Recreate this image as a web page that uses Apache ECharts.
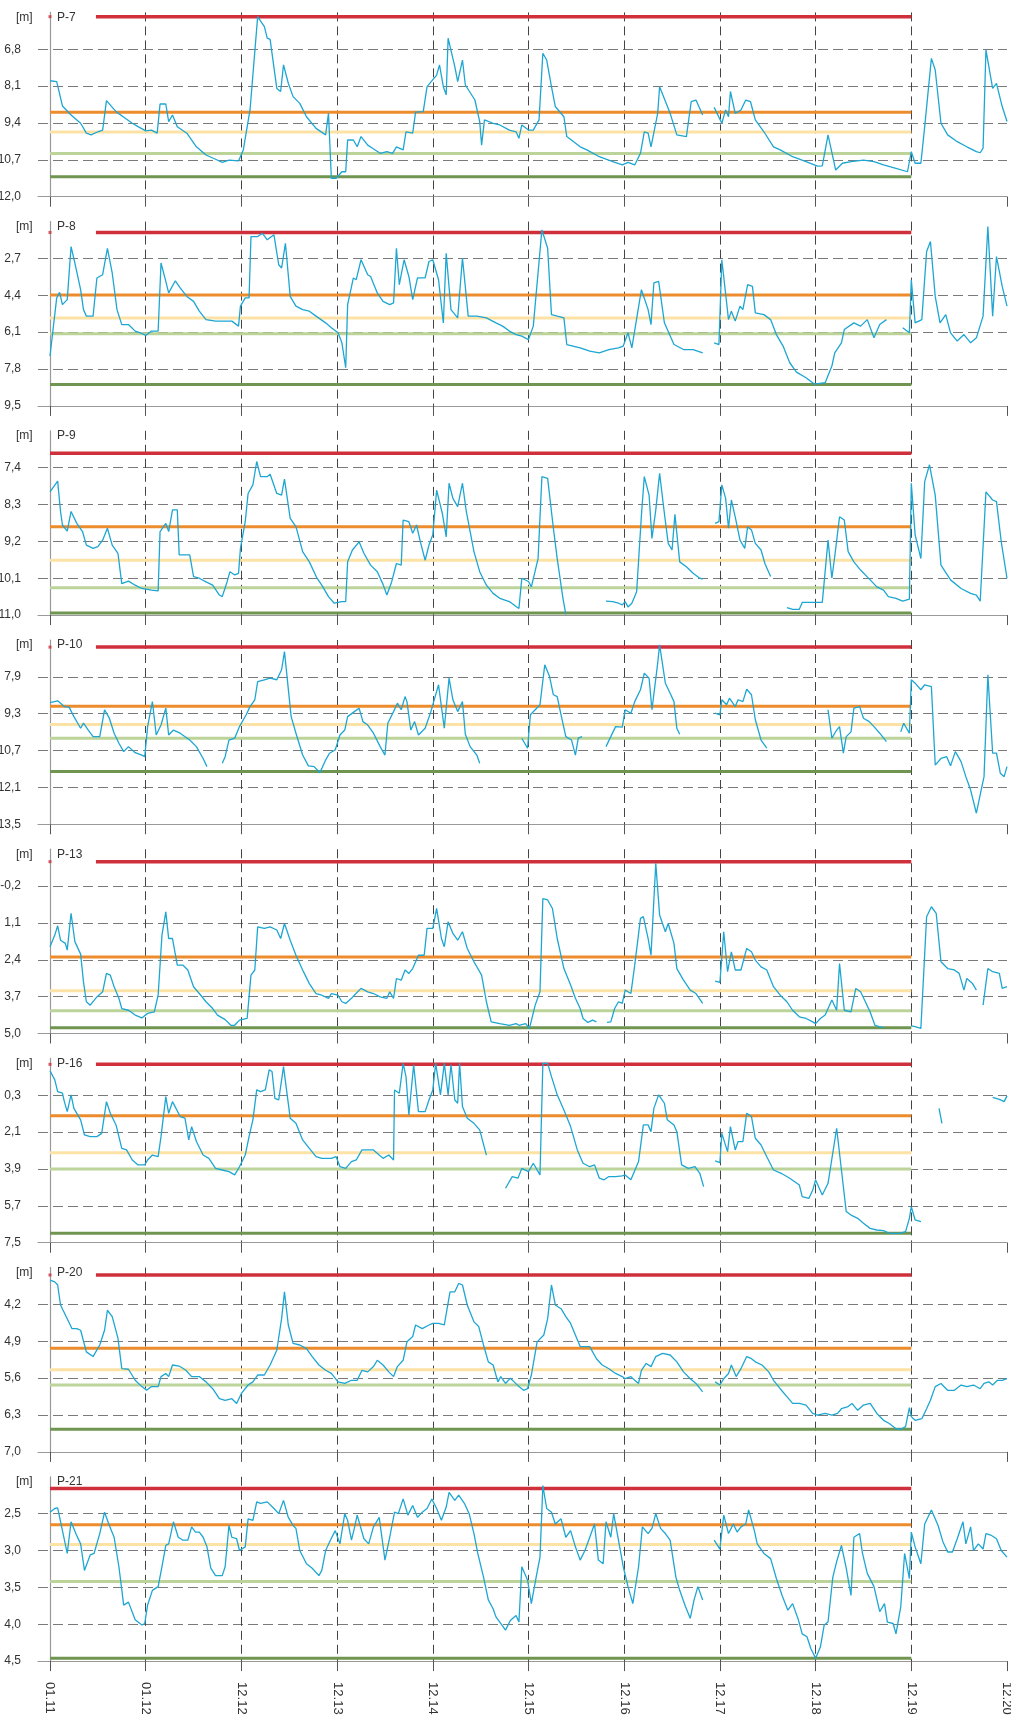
<!DOCTYPE html>
<html><head><meta charset="utf-8">
<script src="https://cdn.jsdelivr.net/npm/echarts@6/dist/echarts.min.js"></script>
<style>html,body{margin:0;padding:0;background:#fff}#c{width:1011px;height:1715px}</style>
</head><body><div id="c"></div>
<script>
const xLabels = ['01.11','01.12','12.12','12.13','12.14','12.15','12.16','12.17','12.18','12.19','12.20'];
const panelNames = ['P-7','P-8','P-9','P-10','P-13','P-16','P-20','P-21'];
const axisMin  = [5.5, 1.0, 6.5, 6.5, -1.5, -1.5, 3.5, 2.0];
const axisMax  = [12.0, 9.5, 11.0, 13.5, 5.0, 7.5, 7.0, 4.5];
const axisStep = [1.3, 1.7, 0.9, 1.4, 1.3, 1.8, 0.7, 0.5];
const redLevel        = [5.65, 1.5, 7.05, 6.77, -1.06, -1.21, 3.64, 2.16];
const redStart        = [0.48, 0.48, 0, 0.48, 0.48, 0.48, 0.48, 0];
const orangeLevel     = [9.02, 4.39, 8.84, 9.02, 2.30, 1.30, 5.03, 2.65];
const yellowLevel     = [9.72, 5.45, 9.66, 9.71, 3.49, 3.11, 5.44, 2.92];
const lightGreenLevel = [10.48, 6.17, 10.33, 10.23, 4.20, 3.90, 5.73, 3.42];
const darkGreenLevel  = [11.30, 8.51, 10.95, 11.49, 4.80, 7.04, 6.57, 4.46];
const thresholdEnd = 9;

const p7 = [[0,7.91],[0.07,7.94],[0.13,8.8],[0.22,9.12],[0.32,9.41],[0.38,9.76],[0.43,9.82],[0.5,9.71],[0.55,9.65],[0.59,8.61],[0.69,9.0],[0.79,9.24],[0.86,9.41],[0.92,9.53],[1.0,9.68],[1.06,9.65],[1.12,9.76],[1.15,8.73],[1.21,8.73],[1.24,9.35],[1.28,9.12],[1.33,9.53],[1.43,9.76],[1.53,10.24],[1.63,10.53],[1.73,10.68],[1.8,10.79],[1.87,10.71],[1.97,10.74],[2.02,10.35],[2.09,8.94],[2.17,5.65],[2.24,6.0],[2.27,6.41],[2.3,6.45],[2.37,8.18],[2.41,8.29],[2.44,7.35],[2.49,8.0],[2.54,8.47],[2.61,8.71],[2.68,9.18],[2.78,9.59],[2.88,9.82],[2.91,9.06],[2.94,11.35],[2.99,11.35],[3.05,11.12],[3.09,11.12],[3.11,10.0],[3.17,10.0],[3.21,10.24],[3.25,9.88],[3.32,10.18],[3.37,10.29],[3.45,10.47],[3.52,10.41],[3.58,10.47],[3.62,10.24],[3.69,10.35],[3.72,9.71],[3.79,9.76],[3.82,9.02],[3.9,9.0],[3.94,8.12],[4.04,7.71],[4.07,7.35],[4.11,8.12],[4.14,8.41],[4.16,6.41],[4.23,7.41],[4.26,7.94],[4.31,7.18],[4.34,8.06],[4.44,8.59],[4.49,9.35],[4.51,10.18],[4.54,9.29],[4.63,9.41],[4.7,9.47],[4.8,9.65],[4.87,9.71],[4.9,9.94],[4.93,9.47],[5.0,9.65],[5.05,9.65],[5.11,9.29],[5.15,6.94],[5.19,7.18],[5.24,8.12],[5.28,8.82],[5.37,9.18],[5.4,9.88],[5.54,10.24],[5.61,10.35],[5.74,10.59],[5.88,10.76],[5.98,10.88],[6.04,10.79],[6.11,10.88],[6.17,10.47],[6.21,9.71],[6.25,9.76],[6.28,10.24],[6.35,9.06],[6.37,8.12],[6.48,9.06],[6.55,9.82],[6.65,9.88],[6.7,8.65],[6.75,8.59],[6.82,9.12],null,[6.94,8.85],[7.02,9.41],[7.06,8.94],[7.09,9.18],[7.11,8.29],[7.16,9.06],[7.22,8.94],[7.27,8.59],[7.32,8.65],[7.37,9.29],[7.46,9.71],[7.56,10.24],[7.63,10.35],[7.76,10.59],[7.9,10.76],[8.02,10.92],[8.07,10.91],[8.13,9.82],[8.21,11.06],[8.28,10.82],[8.37,10.76],[8.5,10.71],[8.61,10.76],[8.71,10.88],[8.84,11.0],[8.96,11.12],[9.0,10.41],[9.04,10.82],[9.1,10.82],[9.14,9.53],[9.21,7.12],[9.25,7.53],[9.31,9.41],[9.38,9.82],[9.48,10.06],[9.58,10.24],[9.68,10.41],[9.72,10.45],[9.75,10.29],[9.78,6.82],[9.85,8.18],[9.89,8.0],[9.95,8.82],[10.0,9.35]];

const p8 = [[0,7.2],[0.07,4.52],[0.1,4.26],[0.13,4.83],[0.18,4.6],[0.22,2.15],[0.26,2.91],[0.32,4.14],[0.35,5.06],[0.38,5.36],[0.45,5.36],[0.49,3.6],[0.55,3.45],[0.6,2.23],[0.65,3.37],[0.7,5.06],[0.75,5.75],[0.82,5.75],[0.89,6.05],[0.96,6.16],[1.0,6.25],[1.06,6.05],[1.13,6.05],[1.16,2.91],[1.21,3.76],[1.24,4.29],[1.31,3.73],[1.36,4.06],[1.43,4.45],[1.5,4.68],[1.56,5.13],[1.63,5.52],[1.73,5.59],[1.9,5.59],[1.97,5.82],[1.99,4.9],[2.04,4.52],[2.08,4.52],[2.1,1.69],[2.17,1.69],[2.22,1.54],[2.27,1.84],[2.34,1.61],[2.39,2.99],[2.42,3.14],[2.46,2.0],[2.51,4.45],[2.57,4.9],[2.64,5.06],[2.71,5.13],[2.78,5.36],[2.88,5.67],[2.94,5.9],[3.01,6.13],[3.05,6.59],[3.09,7.74],[3.11,4.83],[3.17,3.6],[3.2,3.68],[3.25,2.76],[3.32,3.45],[3.35,3.53],[3.42,4.29],[3.48,4.68],[3.55,4.83],[3.59,4.75],[3.62,2.23],[3.65,3.91],[3.7,2.76],[3.75,3.53],[3.79,4.6],[3.84,3.6],[3.92,3.6],[3.96,2.84],[4.0,2.76],[4.06,3.68],[4.11,5.67],[4.14,2.46],[4.19,5.06],[4.26,5.44],[4.31,2.68],[4.37,5.36],[4.46,5.36],[4.56,5.44],[4.66,5.67],[4.73,5.82],[4.8,6.05],[4.87,6.21],[4.93,6.28],[5.0,6.44],[5.05,5.82],[5.14,1.38],[5.2,2.23],[5.24,5.29],[5.3,5.36],[5.37,5.44],[5.4,6.67],[5.54,6.82],[5.64,6.97],[5.74,7.05],[5.84,6.9],[5.94,6.82],[5.99,6.74],[6.04,6.13],[6.08,6.82],[6.18,4.14],[6.25,5.06],[6.28,5.75],[6.31,3.83],[6.36,3.76],[6.42,5.67],[6.52,6.67],[6.62,6.9],[6.72,6.9],[6.82,7.05],null,[6.94,6.59],[6.99,6.67],[7.02,2.76],[7.09,5.52],[7.12,5.13],[7.16,5.59],[7.21,4.9],[7.24,5.06],[7.29,3.91],[7.34,3.99],[7.37,5.21],[7.46,5.29],[7.53,5.52],[7.59,6.21],[7.66,6.74],[7.73,7.51],[7.8,7.94],[7.9,8.2],[7.99,8.5],[8.1,8.43],[8.17,7.66],[8.2,7.05],[8.27,6.59],[8.3,5.98],[8.4,5.67],[8.47,5.82],[8.54,5.52],[8.61,6.36],[8.67,5.75],[8.74,5.52],null,[8.91,5.9],[8.98,6.13],[9.0,3.68],[9.04,5.67],[9.11,5.52],[9.16,2.38],[9.2,1.92],[9.25,4.45],[9.3,5.67],[9.36,5.29],[9.41,6.13],[9.48,6.51],[9.55,6.21],[9.62,6.59],[9.68,6.36],[9.75,5.36],[9.8,1.23],[9.85,5.36],[9.89,2.61],[9.95,3.99],[10.0,4.9]];

const p9 = [[0,7.99],[0.08,7.73],[0.11,8.47],[0.13,8.8],[0.18,8.95],[0.22,8.47],[0.28,8.76],[0.34,8.96],[0.38,9.29],[0.45,9.37],[0.5,9.33],[0.55,9.17],[0.6,8.88],[0.65,9.29],[0.71,9.49],[0.75,10.23],[0.82,10.17],[0.89,10.27],[0.96,10.35],[1.06,10.39],[1.13,10.41],[1.15,8.96],[1.21,8.76],[1.24,8.96],[1.28,8.43],[1.33,8.43],[1.35,9.53],[1.46,9.53],[1.5,10.06],[1.56,10.1],[1.63,10.19],[1.7,10.27],[1.77,10.51],[1.8,10.55],[1.85,10.19],[1.88,9.94],[1.93,10.02],[1.97,9.98],[1.99,9.37],[2.04,8.72],[2.07,8.03],[2.12,7.82],[2.16,7.25],[2.2,7.62],[2.27,7.62],[2.3,7.56],[2.37,8.03],[2.42,8.07],[2.45,7.68],[2.51,8.64],[2.57,8.84],[2.64,9.45],[2.71,9.7],[2.79,10.1],[2.84,10.27],[2.91,10.55],[2.97,10.71],[3.05,10.67],[3.09,10.67],[3.11,9.7],[3.16,9.41],[3.18,9.45],[3.23,9.21],[3.28,9.49],[3.35,9.78],[3.42,9.94],[3.48,10.25],[3.52,10.51],[3.57,10.19],[3.62,9.74],[3.67,9.78],[3.69,8.68],[3.75,8.72],[3.79,9.0],[3.83,8.8],[3.87,9.21],[3.92,9.66],[3.96,9.29],[4.0,9.04],[4.04,7.95],[4.1,8.52],[4.14,9.09],[4.17,7.78],[4.21,8.15],[4.26,8.35],[4.31,7.78],[4.35,8.47],[4.43,9.45],[4.49,9.94],[4.56,10.27],[4.63,10.47],[4.7,10.59],[4.8,10.67],[4.87,10.79],[4.9,10.84],[4.93,10.1],[5.0,10.18],[5.03,10.31],[5.1,9.62],[5.14,7.62],[5.2,7.66],[5.26,8.88],[5.3,9.62],[5.36,10.59],[5.39,10.98],null,[5.81,10.66],[5.88,10.67],[5.94,10.71],[5.98,10.75],[6.01,10.67],[6.04,10.8],[6.08,10.71],[6.13,10.43],[6.18,8.56],[6.21,7.62],[6.26,8.07],[6.29,9.13],[6.33,8.43],[6.37,7.54],[6.42,8.52],[6.46,9.25],[6.5,9.41],[6.53,8.54],[6.58,9.7],[6.65,9.82],[6.72,9.98],[6.79,10.1],[6.82,10.12],null,[6.95,8.76],[6.99,8.72],[7.02,7.82],[7.06,8.15],[7.09,8.88],[7.12,8.19],[7.16,8.6],[7.21,9.17],[7.26,9.37],[7.29,8.84],[7.33,8.92],[7.37,9.25],[7.43,9.41],[7.47,9.74],[7.53,10.06],null,[7.7,10.82],[7.76,10.86],[7.83,10.86],[7.86,10.69],[8.07,10.69],[8.13,9.17],[8.17,10.1],[8.2,9.57],[8.25,8.6],[8.3,8.68],[8.34,9.45],[8.4,9.7],[8.47,9.9],[8.57,10.14],[8.64,10.31],[8.71,10.39],[8.76,10.55],[8.84,10.59],[8.91,10.66],[8.98,10.61],[9.0,7.78],[9.04,9.04],[9.1,9.62],[9.14,7.74],[9.19,7.33],[9.25,8.07],[9.31,9.78],[9.41,10.14],[9.52,10.35],[9.62,10.47],[9.68,10.51],[9.72,10.66],[9.78,7.99],[9.85,8.19],[9.89,8.23],[9.94,9.21],[10.0,10.1]];

const p10 = [[0,8.88],[0.08,8.81],[0.15,9.03],[0.2,9.05],[0.25,9.41],[0.32,9.85],[0.35,9.66],[0.4,9.92],[0.45,10.17],[0.52,10.17],[0.57,9.15],[0.62,9.47],[0.67,10.04],[0.72,10.42],[0.77,10.74],[0.82,10.55],[0.89,10.78],[0.96,10.87],[0.99,10.93],[1.02,9.79],[1.07,8.84],[1.11,10.11],[1.16,9.73],[1.21,9.09],[1.24,10.11],[1.29,9.92],[1.36,10.04],[1.46,10.3],[1.53,10.55],[1.6,11.0],[1.64,11.31],null,[1.8,11.18],[1.83,10.93],[1.87,10.3],[1.93,10.23],[1.98,9.79],[2.05,9.34],[2.09,9.03],[2.14,8.77],[2.17,8.08],[2.24,8.01],[2.3,7.95],[2.37,8.01],[2.42,7.63],[2.45,6.94],[2.52,9.41],[2.57,10.04],[2.64,10.87],[2.7,11.28],[2.76,11.31],[2.82,11.54],[2.88,11.06],[2.92,10.8],[2.98,10.68],[3.03,10.11],[3.08,9.92],[3.11,9.41],[3.18,9.22],[3.23,9.09],[3.27,9.6],[3.32,9.73],[3.38,10.04],[3.45,10.55],[3.5,10.87],[3.53,9.66],[3.59,9.22],[3.63,8.9],[3.67,9.15],[3.71,8.65],[3.73,8.84],[3.77,9.92],[3.81,9.6],[3.85,10.11],[3.92,9.85],[3.98,9.22],[4.02,8.71],[4.06,8.2],[4.09,9.03],[4.12,9.85],[4.17,7.95],[4.21,8.77],[4.26,9.22],[4.31,8.84],[4.34,10.08],[4.39,10.55],[4.46,10.87],[4.49,11.18],null,[4.93,10.23],[4.99,10.61],[5.02,9.34],[5.07,9.15],[5.12,8.96],[5.17,7.44],[5.22,7.89],[5.26,8.58],[5.3,8.65],[5.34,9.34],[5.39,10.17],[5.45,10.3],[5.49,10.87],[5.52,10.23],[5.56,10.17],null,[5.81,10.55],[5.86,10.17],[5.91,9.79],[5.98,9.81],[6.01,9.15],[6.07,9.28],[6.11,8.84],[6.17,8.39],[6.21,7.76],[6.26,7.95],[6.29,9.15],[6.35,7.38],[6.37,6.68],[6.43,8.14],[6.48,8.52],[6.52,8.84],[6.55,9.85],[6.58,10.08],null,[6.95,9.28],[7.0,9.34],[7.02,8.77],[7.07,8.96],[7.1,8.71],[7.16,9.03],[7.19,8.77],[7.24,8.84],[7.28,8.37],[7.33,8.58],[7.37,9.53],[7.43,10.3],[7.49,10.61],null,[8.13,9.15],[8.17,10.23],[8.22,9.92],[8.25,9.79],[8.29,10.8],[8.32,10.17],[8.37,9.99],[8.4,9.09],[8.46,9.03],[8.5,9.47],[8.56,9.6],[8.61,9.79],[8.67,10.04],[8.74,10.36],null,[8.89,9.99],[8.92,9.66],[8.98,10.04],[9.0,8.01],[9.04,8.14],[9.1,8.39],[9.14,8.2],[9.21,8.27],[9.25,11.25],[9.31,11.0],[9.37,10.93],[9.41,11.28],[9.46,10.74],[9.52,11.12],[9.57,11.69],[9.62,12.2],[9.68,13.08],[9.73,12.2],[9.76,11.69],[9.8,7.82],[9.85,10.8],[9.89,10.8],[9.93,11.56],[9.97,11.69],[10.0,11.31]];

const p13 = [[0,1.94],[0.05,1.53],[0.08,1.2],[0.11,1.71],[0.16,1.82],[0.18,2.06],[0.22,0.76],[0.26,1.76],[0.32,2.2],[0.35,3.18],[0.38,3.88],[0.42,4.0],[0.49,3.71],[0.55,3.53],[0.59,2.88],[0.63,2.94],[0.67,3.35],[0.72,3.76],[0.75,4.12],[0.82,4.18],[0.89,4.35],[0.96,4.45],[1.02,4.29],[1.09,4.24],[1.13,3.65],[1.17,1.53],[1.21,0.71],[1.24,1.65],[1.28,1.65],[1.33,2.59],[1.39,2.59],[1.44,2.76],[1.5,3.35],[1.56,3.59],[1.63,3.88],[1.7,4.12],[1.75,4.35],[1.83,4.51],[1.89,4.71],[1.93,4.71],[1.98,4.53],[2.06,4.47],[2.1,2.94],[2.14,2.76],[2.17,1.24],[2.24,1.29],[2.3,1.24],[2.37,1.35],[2.41,1.65],[2.45,1.12],[2.51,1.71],[2.57,2.24],[2.64,2.76],[2.71,3.24],[2.78,3.59],[2.84,3.65],[2.91,3.76],[2.94,3.59],[3.01,3.65],[3.05,3.88],[3.09,3.94],[3.15,3.76],[3.18,3.65],[3.25,3.41],[3.32,3.53],[3.38,3.59],[3.45,3.71],[3.52,3.76],[3.55,3.53],[3.59,3.76],[3.62,3.06],[3.67,3.12],[3.71,2.76],[3.75,2.88],[3.79,2.71],[3.85,2.24],[3.91,2.24],[3.94,1.29],[4.0,1.29],[4.04,0.59],[4.09,1.65],[4.12,1.94],[4.16,1.06],[4.21,1.47],[4.26,1.71],[4.31,1.41],[4.36,2.0],[4.43,2.47],[4.51,2.94],[4.56,3.88],[4.61,4.59],[4.7,4.65],[4.8,4.71],[4.87,4.65],[4.9,4.71],[4.97,4.65],[5.01,4.82],[5.07,4.0],[5.12,3.53],[5.15,0.24],[5.2,0.29],[5.25,0.59],[5.3,1.65],[5.37,2.71],[5.44,3.29],[5.49,3.76],[5.54,4.12],[5.57,4.47],[5.62,4.61],[5.67,4.53],[5.71,4.59],null,[5.82,4.61],[5.86,4.59],[5.9,4.12],[5.94,3.88],[5.98,3.94],[6.01,3.47],[6.07,3.59],[6.11,2.59],[6.17,0.94],[6.2,0.88],[6.25,1.65],[6.28,2.24],[6.33,-1.0],[6.37,0.82],[6.43,1.41],[6.46,1.12],[6.52,1.82],[6.55,2.71],[6.62,3.12],[6.69,3.47],[6.75,3.59],[6.82,3.94],null,[6.95,3.15],[7.0,3.2],[7.04,1.41],[7.08,2.82],[7.12,2.12],[7.16,2.76],[7.22,2.76],[7.28,2.0],[7.33,2.12],[7.37,2.41],[7.43,2.65],[7.49,2.76],[7.56,3.35],[7.63,3.65],[7.7,3.88],[7.76,4.18],[7.83,4.41],[7.9,4.47],[7.97,4.59],[8.0,4.65],[8.05,4.47],[8.1,4.35],[8.17,3.82],[8.22,4.18],[8.25,2.53],[8.3,4.18],[8.37,4.24],[8.42,3.41],[8.47,3.53],[8.52,3.88],[8.57,4.24],[8.62,4.71],[8.71,4.8],null,[9.0,4.73],[9.04,4.76],[9.1,4.82],[9.16,0.88],[9.21,0.53],[9.26,0.76],[9.31,2.47],[9.38,2.71],[9.45,2.76],[9.5,2.88],[9.55,3.47],[9.58,3.06],[9.64,3.24],[9.68,3.47],null,[9.75,4.0],[9.8,2.71],[9.85,2.82],[9.92,2.88],[9.95,3.41],[10.0,3.35]];

const p16 = [[0,-0.9],[0.05,-0.45],[0.08,0.12],[0.13,0.2],[0.15,0.61],[0.18,1.1],[0.22,0.28],[0.25,0.94],[0.32,1.5],[0.36,2.24],[0.42,2.32],[0.49,2.32],[0.54,2.16],[0.59,0.61],[0.63,1.18],[0.69,1.75],[0.75,2.89],[0.8,2.97],[0.86,3.46],[0.92,3.7],[0.99,3.7],[1.02,3.46],[1.07,3.22],[1.13,3.3],[1.16,2.32],[1.21,0.37],[1.24,1.18],[1.28,0.61],[1.36,1.34],[1.41,1.42],[1.45,2.48],[1.48,1.83],[1.53,2.56],[1.6,3.22],[1.66,3.38],[1.73,3.87],[1.8,3.95],[1.87,4.03],[1.93,4.19],[1.98,3.79],[2.04,3.22],[2.08,2.32],[2.12,1.5],[2.16,0.04],[2.2,0.12],[2.25,0.04],[2.29,-0.94],[2.32,-0.86],[2.35,0.45],[2.39,0.53],[2.44,-1.1],[2.51,1.42],[2.57,1.67],[2.64,2.48],[2.71,2.89],[2.78,3.3],[2.84,3.38],[2.94,3.38],[2.99,3.3],[3.03,3.79],[3.09,3.87],[3.15,3.54],[3.2,3.46],[3.26,2.97],[3.38,2.97],[3.44,3.22],[3.48,3.38],[3.54,3.22],[3.59,3.46],[3.6,0.04],[3.65,0.2],[3.69,-1.26],[3.72,-0.61],[3.75,1.26],[3.8,-1.19],[3.85,1.1],[3.92,1.1],[3.96,0.53],[4.0,0.04],[4.03,-1.26],[4.08,0.28],[4.12,-1.26],[4.16,0.28],[4.19,-1.19],[4.23,0.53],[4.26,0.69],[4.28,-1.26],[4.31,0.85],[4.36,1.42],[4.43,1.67],[4.49,1.99],[4.56,3.22],null,[4.76,4.84],[4.83,4.27],[4.89,4.35],[4.93,3.87],[5.0,4.03],[5.05,3.62],[5.12,4.19],[5.15,-1.26],[5.2,-1.26],[5.24,-0.61],[5.3,0.28],[5.37,1.02],[5.44,1.83],[5.51,2.97],[5.57,3.62],[5.64,3.79],[5.69,3.7],[5.74,4.35],[5.79,4.43],[5.84,4.27],[5.91,4.27],[5.98,4.24],[6.01,4.19],[6.07,4.43],[6.15,3.54],[6.2,1.75],[6.25,1.75],[6.28,2.08],[6.31,0.94],[6.36,0.28],[6.42,0.69],[6.45,1.5],[6.52,1.75],[6.55,2.08],[6.6,3.7],[6.67,3.87],[6.74,3.79],[6.79,4.11],[6.83,4.76],null,[6.95,3.5],[7.0,3.59],[7.02,2.16],[7.08,3.05],[7.11,1.83],[7.16,2.97],[7.19,2.56],[7.24,2.56],[7.28,1.18],[7.33,1.34],[7.37,2.4],[7.43,2.73],[7.49,3.3],[7.56,3.95],[7.64,4.11],[7.73,4.35],[7.83,4.68],[7.86,5.25],[7.93,5.33],[7.97,4.93],[8.0,4.44],[8.07,5.17],[8.13,4.6],[8.22,1.91],[8.27,3.95],[8.32,5.98],[8.37,6.15],[8.44,6.31],[8.5,6.55],[8.57,6.8],[8.64,6.88],[8.71,6.91],[8.77,7.04],[8.88,7.04],[8.94,6.96],[8.98,6.31],[9.0,5.74],[9.04,6.39],[9.1,6.47],null,[9.29,0.94],[9.32,1.67],null,[9.85,0.4],[9.92,0.5],[9.97,0.61],[10.0,0.33]];

const p20 = [[0,3.74],[0.05,3.77],[0.08,3.83],[0.11,4.21],[0.18,4.47],[0.23,4.66],[0.28,4.66],[0.32,4.69],[0.38,5.1],[0.45,5.19],[0.52,4.97],[0.57,4.69],[0.6,4.31],[0.65,4.43],[0.71,4.84],[0.75,5.42],[0.82,5.43],[0.89,5.64],[0.96,5.76],[1.01,5.83],[1.06,5.76],[1.13,5.76],[1.16,5.57],[1.21,5.51],[1.24,5.57],[1.28,5.35],[1.35,5.37],[1.42,5.45],[1.48,5.57],[1.56,5.57],[1.63,5.67],[1.7,5.8],[1.77,5.99],[1.83,6.02],[1.9,5.99],[1.95,6.08],[2.0,5.89],[2.07,5.73],[2.12,5.67],[2.17,5.54],[2.24,5.54],[2.3,5.35],[2.37,5.07],[2.42,4.47],[2.45,3.96],[2.49,4.59],[2.54,4.94],[2.61,4.97],[2.68,5.04],[2.74,5.19],[2.81,5.35],[2.88,5.45],[2.94,5.51],[3.01,5.67],[3.08,5.7],[3.15,5.64],[3.21,5.64],[3.26,5.45],[3.32,5.48],[3.38,5.38],[3.42,5.26],[3.48,5.35],[3.54,5.48],[3.59,5.57],[3.63,5.38],[3.69,5.26],[3.73,4.91],[3.79,4.81],[3.82,4.59],[3.89,4.66],[3.96,4.59],[4.0,4.56],[4.06,4.56],[4.12,4.59],[4.18,3.96],[4.23,3.96],[4.27,3.8],[4.31,3.83],[4.36,4.21],[4.43,4.53],[4.48,4.62],[4.53,4.97],[4.58,5.29],[4.63,5.35],[4.68,5.67],[4.71,5.57],[4.76,5.7],[4.81,5.6],[4.85,5.67],[4.9,5.76],[4.95,5.83],[4.99,5.8],[5.03,5.54],[5.09,4.91],[5.16,4.78],[5.2,4.47],[5.24,3.83],[5.28,4.21],[5.34,4.28],[5.39,4.43],[5.44,4.56],[5.49,4.78],[5.54,5.0],[5.64,5.0],[5.71,5.23],[5.77,5.35],[5.84,5.42],[5.91,5.51],[5.98,5.57],[6.01,5.61],[6.07,5.57],[6.11,5.64],[6.15,5.7],[6.18,5.45],[6.23,5.32],[6.28,5.38],[6.33,5.19],[6.4,5.13],[6.48,5.16],[6.55,5.29],[6.62,5.48],[6.69,5.61],[6.75,5.7],[6.82,5.86],null,[6.95,5.67],[7.0,5.73],[7.04,5.61],[7.09,5.51],[7.12,5.35],[7.17,5.57],[7.22,5.42],[7.28,5.19],[7.33,5.23],[7.37,5.29],[7.44,5.35],[7.51,5.48],[7.56,5.64],[7.63,5.8],[7.7,5.95],[7.76,6.08],[7.83,6.08],[7.9,6.11],[7.97,6.27],[8.02,6.3],[8.1,6.27],[8.17,6.3],[8.23,6.27],[8.27,6.18],[8.34,6.14],[8.38,6.08],[8.44,6.21],[8.5,6.11],[8.57,6.08],[8.64,6.27],[8.71,6.4],[8.77,6.46],[8.84,6.56],[8.89,6.57],[8.94,6.52],[8.98,6.16],[9.0,6.33],[9.04,6.4],[9.11,6.37],[9.16,6.18],[9.2,6.02],[9.25,5.76],[9.31,5.7],[9.38,5.83],[9.45,5.83],[9.52,5.73],[9.58,5.76],[9.65,5.73],[9.72,5.8],[9.76,5.7],[9.81,5.67],[9.85,5.73],[9.9,5.64],[9.95,5.64],[10.0,5.61]];

const p21 = [[0,2.48],[0.05,2.43],[0.08,2.42],[0.13,2.73],[0.18,3.04],[0.22,2.61],[0.27,2.77],[0.32,2.91],[0.36,3.27],[0.42,3.06],[0.46,3.04],[0.52,2.77],[0.57,2.48],[0.62,2.66],[0.67,2.82],[0.72,3.22],[0.77,3.74],[0.82,3.7],[0.89,3.94],[0.96,4.01],[0.99,3.99],[1.02,3.74],[1.07,3.54],[1.13,3.49],[1.17,3.22],[1.21,2.93],[1.24,2.91],[1.29,2.61],[1.34,2.82],[1.39,2.86],[1.44,2.86],[1.48,2.68],[1.52,2.75],[1.56,2.75],[1.6,2.82],[1.64,2.95],[1.68,3.24],[1.73,3.34],[1.8,3.34],[1.83,3.22],[1.87,2.66],[1.9,2.82],[1.95,2.84],[1.98,3.0],[2.04,2.95],[2.07,2.57],[2.12,2.59],[2.16,2.34],[2.2,2.36],[2.27,2.34],[2.34,2.43],[2.39,2.5],[2.44,2.32],[2.49,2.55],[2.54,2.66],[2.57,2.7],[2.61,3.0],[2.68,3.18],[2.74,3.24],[2.81,3.34],[2.84,3.27],[2.88,3.0],[2.93,2.86],[2.98,2.73],[3.03,2.91],[3.08,2.5],[3.11,2.59],[3.15,2.86],[3.18,2.7],[3.21,2.52],[3.28,2.84],[3.33,2.91],[3.38,2.68],[3.44,2.55],[3.5,3.13],[3.55,2.82],[3.6,2.48],[3.64,2.5],[3.69,2.3],[3.74,2.52],[3.79,2.39],[3.84,2.55],[3.89,2.48],[3.94,2.43],[3.99,2.3],[4.04,2.43],[4.09,2.59],[4.14,2.41],[4.17,2.21],[4.23,2.32],[4.27,2.25],[4.33,2.36],[4.38,2.5],[4.43,2.77],[4.47,3.04],[4.53,3.36],[4.58,3.67],[4.63,3.79],[4.66,3.9],[4.7,3.97],[4.76,4.08],[4.81,3.95],[4.87,3.88],[4.9,3.97],[4.93,3.22],[4.99,3.4],[5.03,3.72],[5.08,3.36],[5.12,3.09],[5.15,2.12],[5.19,2.43],[5.24,2.48],[5.28,2.64],[5.34,2.57],[5.39,2.82],[5.44,2.73],[5.49,2.95],[5.54,3.13],[5.59,3.0],[5.64,2.82],[5.69,2.64],[5.73,3.13],[5.78,3.18],[5.81,2.61],[5.86,2.82],[5.89,2.5],[5.94,2.86],[5.99,3.22],[6.04,3.49],[6.09,3.72],[6.15,3.22],[6.19,2.68],[6.25,2.77],[6.29,2.7],[6.33,2.5],[6.38,2.7],[6.43,2.77],[6.48,2.86],[6.54,3.36],[6.58,3.54],[6.64,3.76],[6.69,3.92],[6.73,3.67],[6.77,3.49],[6.82,3.67],null,[6.94,2.86],[7.0,2.98],[7.04,2.52],[7.09,2.77],[7.14,2.64],[7.18,2.75],[7.22,2.68],[7.27,2.64],[7.3,2.45],[7.36,2.73],[7.39,2.91],[7.46,3.04],[7.53,3.11],[7.59,3.38],[7.65,3.61],[7.71,3.81],[7.76,3.72],[7.82,3.94],[7.86,4.13],[7.91,4.17],[7.95,4.33],[8.0,4.46],[8.05,4.31],[8.09,4.01],[8.13,3.97],[8.18,3.36],[8.22,3.15],[8.27,2.93],[8.32,3.24],[8.37,3.61],[8.4,2.82],[8.46,2.77],[8.49,3.04],[8.54,3.31],[8.61,3.49],[8.67,3.83],[8.72,3.72],[8.75,3.97],[8.81,3.99],[8.84,4.13],[8.89,3.76],[8.93,3.04],[8.98,3.38],[9.0,2.75],[9.04,2.95],[9.1,3.18],[9.14,2.64],[9.21,2.45],[9.28,2.66],[9.33,2.88],[9.38,3.02],[9.43,3.02],[9.48,2.84],[9.54,2.61],[9.57,2.91],[9.62,2.68],[9.65,3.0],[9.7,2.91],[9.75,2.98],[9.78,2.77],[9.83,2.79],[9.89,2.84],[9.94,3.0],[10.0,3.09]];

const panelData = [p7, p8, p9, p10, p13, p16, p20, p21];

// layout (pixels)
const FONT = "'Liberation Sans', Arial, sans-serif";
const PANEL_TOP0 = 12.4, PANEL_STEP = 209.2, PANEL_H = 184.3;
const AXIS_X = 50, RIGHT_X = 1007, GRID_LEFT = 38;
const pxPerUnit = (RIGHT_X - AXIS_X) / 10;
const xMinPanel = -(AXIS_X - GRID_LEFT) / pxPerUnit;
const nP = panelData.length;

const grids = [], xAxes = [], yAxes = [], series = [], graphics = [];

// background grids: vertical dashed lines + ticks (one per panel)
for (let i = 0; i < nP; i++) {
  const top = PANEL_TOP0 + PANEL_STEP * i;
  const last = i === nP - 1;
  grids.push({ left: AXIS_X, width: RIGHT_X - AXIS_X, top: top, height: PANEL_H, outerBoundsMode: 'none', containLabel: false });
  xAxes.push({
    gridIndex: i, type: 'value', min: 0, max: 10, interval: 1,
    axisLine: { show: false, onZero: false },
    axisTick: { show: true, length: 10, lineStyle: { color: '#555' } },
    axisLabel: { show: last, rotate: -90, margin: 21, fontSize: 13, fontFamily: FONT, color: '#333',
      formatter: v => xLabels[Math.round(v)] || '', showMinLabel: true, showMaxLabel: true },
    splitLine: { show: true, showMinLine: false, showMaxLine: false, lineStyle: { color: '#444', type: [9, 5], width: 1 } }
  });
  yAxes.push({ gridIndex: i, type: 'value', min: 0, max: 1, show: false });
}

const thrColors = ['#6f9550', '#bcd39a', '#fde2a6', '#ec8c2c', '#d0303b'];

panelData.forEach((data, i) => {
  const top = PANEL_TOP0 + PANEL_STEP * i;
  const gi = nP + i;
  grids.push({ left: GRID_LEFT, width: RIGHT_X - GRID_LEFT, top: top, height: PANEL_H, outerBoundsMode: 'none', containLabel: false });
  xAxes.push({
    gridIndex: gi, type: 'value', min: xMinPanel, max: 10,
    axisLine: { show: true, onZero: false, lineStyle: { color: '#999', width: 1.2 } },
    axisTick: { show: false }, axisLabel: { show: false }, splitLine: { show: false }
  });
  const mn = axisMin[i];
  yAxes.push({
    gridIndex: gi, type: 'value', inverse: true, min: mn, max: axisMax[i], interval: axisStep[i],
    axisLine: { show: true, onZero: true, lineStyle: { color: '#999', width: 1.2 } },
    axisTick: { show: false },
    axisLabel: { margin: 17, fontSize: 12, fontFamily: FONT, color: '#333',
      formatter: v => (Math.abs(v - mn) < 1e-6 ? '' : v.toFixed(1).replace('.', ',')) },
    splitLine: { show: true, showMinLine: false, showMaxLine: false, lineStyle: { color: '#7a7a7a', type: [10, 5], width: 1.2 } }
  });
  const levels = [darkGreenLevel[i], lightGreenLevel[i], yellowLevel[i], orangeLevel[i], redLevel[i]];
  levels.forEach((lv, k) => {
    const x0 = k === 4 ? redStart[i] : 0;
    series.push({
      type: 'line', xAxisIndex: gi, yAxisIndex: gi, data: [[x0, lv], [thresholdEnd, lv]],
      symbol: 'none', silent: true, animation: false, z: 2,
      lineStyle: { color: thrColors[k], width: k === 4 ? 3.5 : 3 }
    });
  });
  if (redStart[i] > 0) {
    series.push({ type: 'scatter', xAxisIndex: gi, yAxisIndex: gi, data: [[0, redLevel[i]]],
      symbol: 'rect', symbolSize: 3, itemStyle: { color: '#d0303b' }, silent: true, animation: false, z: 4 });
  }
  series.push({
    type: 'line', xAxisIndex: gi, yAxisIndex: gi,
    data: data.map((p, j) => p === null ? [data[j - 1][0] + 0.005, '-'] : p),
    symbol: 'none', showSymbol: false, connectNulls: false, silent: true, animation: false, z: 3,
    lineStyle: { color: '#1ea6d2', width: 1.3 }
  });
  graphics.push({ type: 'text', x: 16, y: top + 5, style: { text: '[m]', font: '12px ' + FONT, fill: '#333', verticalAlign: 'middle', textVerticalAlign: 'middle' } });
  graphics.push({ type: 'text', x: 57, y: top + 5, style: { text: panelNames[i], font: '12px ' + FONT, fill: '#333', verticalAlign: 'middle', textVerticalAlign: 'middle' } });
});

const chart = echarts.init(document.getElementById('c'), null, { renderer: 'canvas' });
chart.setOption({
  backgroundColor: '#ffffff',
  animation: false,
  grid: grids, xAxis: xAxes, yAxis: yAxes, series: series, graphic: graphics
});
</script></body></html>
